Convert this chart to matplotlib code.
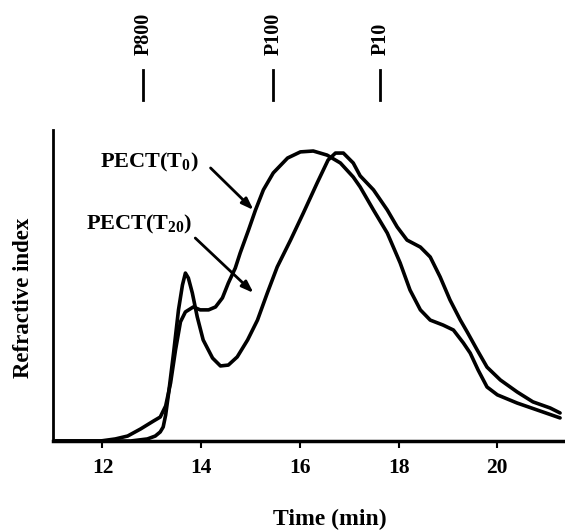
import matplotlib.pyplot as plt

plt.rcParams['font.family'] = 'Liberation Serif'
plt.rcParams['font.weight'] = 'bold'
plt.rcParams['mathtext.fontset'] = 'custom'
plt.rcParams['mathtext.rm'] = 'Liberation Serif:bold'
plt.rcParams['mathtext.it'] = 'Liberation Serif:bold'
plt.rcParams['mathtext.bf'] = 'Liberation Serif:bold'

# elution time (min) and detector response (relative units)
t0_time = [11.05, 11.96, 12.26, 12.51, 12.77, 13.03, 13.17, 13.28, 13.38, 13.48,
           13.58, 13.68, 13.84, 13.98, 14.15, 14.29, 14.43, 14.55, 14.69, 14.79,
           14.96, 15.10, 15.26, 15.46, 15.75, 16.01, 16.27, 16.55, 16.82, 17.08,
           17.22, 17.49, 17.77, 18.03, 18.23, 18.44, 18.64, 18.90, 19.11, 19.31,
           19.45, 19.61, 19.79, 20.00, 20.40, 20.81, 21.27]
t0_signal = [0, 0, 0.7, 1.7, 4.1, 6.8, 8.2, 12.0, 19.9, 31.2,
             40.8, 44.2, 45.9, 44.9, 44.9, 45.9, 49.0, 54.1, 59.2, 64.4,
             72.3, 79.1, 86.0, 91.8, 96.9, 99.0, 99.3, 97.9, 95.2, 90.4,
             87.0, 79.1, 71.2, 61.0, 51.7, 44.9, 41.4, 39.7, 38.0, 33.6,
             30.1, 24.3, 18.5, 15.8, 13.0, 10.6, 7.9]

t20_time = [11.05, 12.57, 12.91, 13.07, 13.17, 13.23, 13.28, 13.34, 13.44, 13.54,
            13.62, 13.68, 13.74, 13.82, 13.92, 14.04, 14.23, 14.39, 14.55, 14.73,
            14.94, 15.14, 15.34, 15.54, 15.81, 16.07, 16.35, 16.57, 16.72, 16.88,
            17.08, 17.22, 17.49, 17.77, 17.97, 18.17, 18.44, 18.64, 18.84, 19.04,
            19.25, 19.39, 19.59, 19.79, 20.06, 20.40, 20.72, 21.07, 21.27]
t20_signal = [0, 0, 0.7, 1.7, 3.1, 4.8, 8.9, 16.4, 30.1, 44.9,
              53.4, 57.5, 55.8, 50.7, 42.5, 34.6, 28.4, 25.7, 26.0, 28.8,
              34.6, 41.4, 50.7, 59.6, 68.8, 78.1, 88.4, 96.2, 98.6, 98.6,
              95.2, 90.8, 86.0, 79.1, 73.3, 68.8, 66.4, 63.0, 56.2, 48.3,
              41.4, 37.3, 31.2, 25.3, 20.9, 16.8, 13.4, 11.3, 9.6]

# pullulan standards
std_labels = ['P800', 'P100', 'P10']
std_times = [12.83, 15.46, 17.63]

fig = plt.figure(figsize=(5.65, 5.31), dpi=100)
ax = fig.add_axes([0.094, 0.1695, 0.906, 0.5857])

for tx, sig in [(t0_time, t0_signal), (t20_time, t20_signal)]:
    ax.plot(tx, sig, color='black', lw=2.6, solid_capstyle='round',
            solid_joinstyle='round')

ax.set_xlim(11.0, 21.37)
ax.set_ylim(0, 106.5)
ax.set_xticks([12, 14, 16, 18, 20])
ax.set_yticks([])
ax.tick_params(axis='x', direction='out', length=5, width=1.5, labelsize=15.5, pad=7)
for lbl in ax.get_xticklabels():
    lbl.set_fontweight('bold')
ax.spines['top'].set_visible(False)
ax.spines['right'].set_visible(False)
ax.spines['bottom'].set_linewidth(2.5)
ax.spines['left'].set_linewidth(2)

arrow = dict(arrowstyle='-|>,head_length=0.7,head_width=0.25', color='black',
             lw=2, shrinkA=0, shrinkB=0)
ax.text(13.94, 95.5, 'PECT(T$_0$)', ha='right', va='center', fontsize=16, fontweight='bold')
ax.annotate('', xy=(15.06, 79.1), xytext=(14.19, 93.5), arrowprops=arrow)
ax.text(13.82, 74.0, 'PECT(T$_{20}$)', ha='right', va='center', fontsize=16, fontweight='bold')
ax.annotate('', xy=(15.06, 50.7), xytext=(13.88, 69.5), arrowprops=arrow)

tr = ax.get_xaxis_transform()
for lab, t in zip(std_labels, std_times):
    ax.plot([t, t], [1.096, 1.193], transform=tr, color='black', lw=2, clip_on=False)
    ax.text(t, 1.241, lab, transform=tr, rotation=90, ha='center', va='bottom',
            fontsize=14.5, fontweight='bold')

fig.text(0.584, 0.021, 'Time (min)', ha='center', va='center', fontsize=17, fontweight='bold')
fig.text(0.041, 0.44, 'Refractive index', ha='center', va='center', rotation=90,
         fontsize=16.5, fontweight='bold')

fig.savefig('out.png', dpi=100)
